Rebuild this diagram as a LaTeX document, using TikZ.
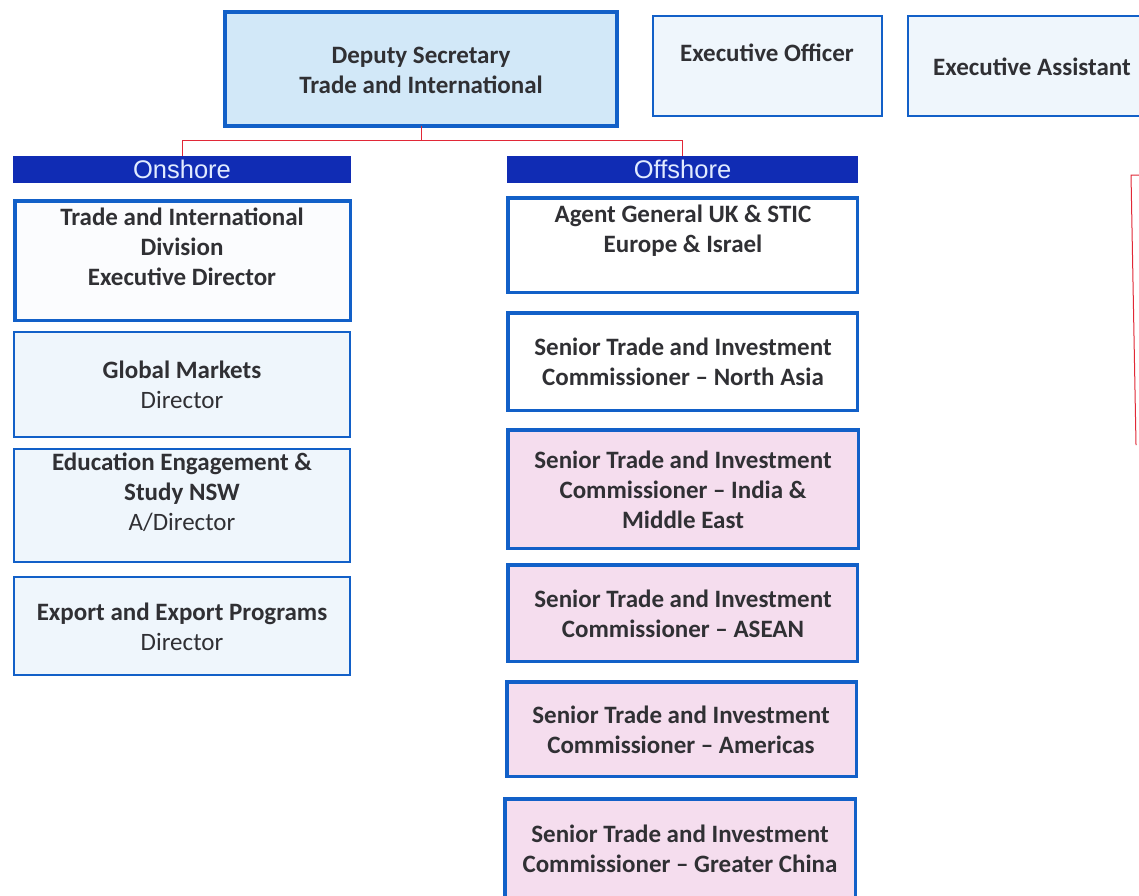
\documentclass[tikz,border=0pt]{standalone}
\usepackage{fontspec}
\setmainfont{Carlito}
\newfontfamily\hdrfont{Liberation Sans}
\definecolor{boxblue}{RGB}{18,96,200}
\definecolor{hdrblue}{RGB}{16,44,180}
\definecolor{hdrtext}{RGB}{225,235,255}
\definecolor{depfill}{RGB}{210,232,248}
\definecolor{lightfill}{RGB}{239,246,252}
\definecolor{whitefill}{RGB}{251,252,254}
\definecolor{pinkfill}{RGB}{245,221,238}
\definecolor{txtgray}{RGB}{48,48,52}
\definecolor{redline}{RGB}{225,40,55}
\begin{document}
\begin{tikzpicture}[x=1pt,y=-1pt,
  orgbox/.style={draw=boxblue, rectangle, inner sep=0pt, outer sep=0pt},
  thin box/.style={orgbox, line width=2pt},
  thick box/.style={orgbox, line width=3.5pt},
  hdr/.style={fill=hdrblue, rectangle, inner sep=0pt, text=hdrtext,
    font=\hdrfont\fontsize{25.5}{27}\selectfont},
  txt/.style={align=center, text=txtgray, inner sep=0pt,
    font=\bfseries\fontsize{25}{30}\selectfont},
  conn/.style={draw=redline, line width=1pt}]
\useasboundingbox (0,0) rectangle (1139,895);
\clip (0,0) rectangle (1139,895);
\fill[white] (0,0) rectangle (1139,895);

% top row
\node[orgbox, line width=4pt, fill=depfill, minimum width=392pt, minimum height=114pt] (dep) at (421,69) {};
\node[txt] (deptxt) at (421,70) {Deputy Secretary\\Trade and International};
\node[thin box, fill=lightfill, minimum width=229pt, minimum height=100pt] (eo) at (767.5,66) {};
\node[txt] (eotxt) at (767,53) {Executive Officer};
\node[thin box, fill=lightfill, minimum width=260pt, minimum height=100pt] (ea) at (1038,66) {};
\node[txt] (eatxt) at (1032,67) {Executive Assistant};

% headers
\node[hdr, minimum width=338pt, minimum height=27pt] (onh) at (182,169.5) {Onshore};
\node[hdr, minimum width=351pt, minimum height=27pt] (offh) at (682.5,169.5) {Offshore};

% connectors
\coordinate (jn) at ([yshift=-14pt]dep.south);
\draw[conn] (dep.south) -- (jn) -| (onh.north);
\draw[conn] (jn) -| (offh.north);

% onshore column
\node[thick box, fill=whitefill, minimum width=335.5pt, minimum height=119.5pt] (tid) at (182.5,260.5) {};
\node[txt] (tidtxt) at (182,247) {Trade and International\\Division\\Executive Director};
\node[thin box, fill=lightfill, minimum width=336pt, minimum height=105pt] (gm) at (182,384.5) {};
\node[txt] (gmtxt) at (182,385) {Global Markets\\{\mdseries Director}};
\node[thin box, fill=lightfill, minimum width=336pt, minimum height=113pt] (ed) at (182,505.5) {};
\node[txt] (edtxt) at (182,492.5) {Education Engagement \&\\Study NSW\\{\mdseries A/Director}};
\node[thin box, fill=lightfill, minimum width=336pt, minimum height=98pt] (ex) at (182,626) {};
\node[txt] (extxt) at (182,626.5) {Export and Export Programs\\{\mdseries Director}};

% offshore column
\node[thick box, fill=white, minimum width=349.5pt, minimum height=94.5pt] (ag) at (682.5,245) {};
\node[txt] (agtxt) at (683,231) {Agent General UK \& STIC\\Europe \& Israel};
\node[thick box, fill=white, minimum width=349.5pt, minimum height=97.5pt] (na) at (682.5,361.5) {};
\node[txt] (natxt) at (683,362) {Senior Trade and Investment\\Commissioner -- North Asia};
\node[thick box, fill=pinkfill, minimum width=350.5pt, minimum height=118.5pt] (in) at (683,489) {};
\node[txt] (intxt) at (683,490) {Senior Trade and Investment\\Commissioner -- India \&\\Middle East};
\node[thick box, fill=pinkfill, minimum width=349.5pt, minimum height=96.5pt] (as) at (682.5,613) {};
\node[txt] (astxt) at (683,614) {Senior Trade and Investment\\Commissioner -- ASEAN};
\node[thick box, fill=pinkfill, minimum width=349.5pt, minimum height=94.5pt] (am) at (681.5,729) {};
\node[txt] (amtxt) at (681,730) {Senior Trade and Investment\\Commissioner -- Americas};
\node[thick box, fill=pinkfill, minimum width=350.5pt, minimum height=114.5pt] (gc) at (680,856) {};
\node[txt] (gctxt) at (680,849) {Senior Trade and Investment\\Commissioner -- Greater China};

% red bracket at right edge
\draw[conn] (1140,175) -- (1131,175) -- (1136,445);
\end{tikzpicture}
\end{document}
